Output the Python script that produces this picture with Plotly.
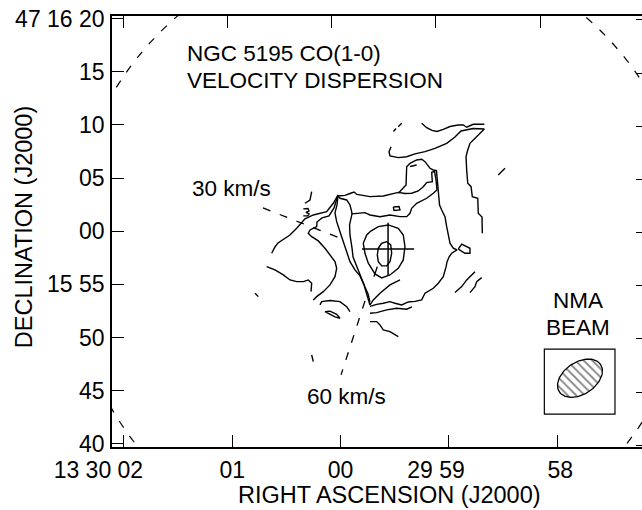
import numpy as np
import plotly.graph_objects as go

# Coordinates: arcsec offsets from 13h30m00s, +47d16'00" (J2000)
# x = east offset (dRA*cos(dec)), y = north offset
ARCSEC_PER_RA_SEC = 10.177
RA_TICK_SEC = [62, 61, 60, 59, 58]
HID = "<span style='color:rgba(0,0,0,0)'>"
RA_TICK_TEXT = ["13 30 02" + HID + "1330</span>", "01", "00",
                "29 59" + HID + "29</span>", HID + "\u00a0</span>58"]
DEC_TICKS = [20, 15, 10, 5, 0, -5, -10, -15, -20]
DEC_TICK_TEXT = ["47 16 20", "15", "10", "05", "00", "15 55", "50", "45", "40"]

# ---- contour lines (velocity dispersion), digitised ----
ctr_top_x = [-7.63, -8.10, -8.60, -9.07, -9.66, -10.29, -11.05, -11.54, -11.86, -12.17, -12.48, -13.52]
ctr_top_y = [10.15, 9.74, 9.48, 9.38, 9.57, 9.85, 9.99, 9.99, 9.78, 9.90, 10.06, 10.06]

ctr_ne_x = [-4.75, -4.56, -4.65, -5.43, -6.22, -7.00, -7.94, -8.88, -9.98, -10.76, -11.33, -11.89, -12.46,
            -13.52, -12.93, -12.46, -12.17, -11.96, -11.80, -11.86, -11.96, -12.27, -12.39, -12.90, -12.95,
            -13.30, -13.33]
ctr_ne_y = [7.95, 7.48, 7.08, 6.92, 7.01, 7.27, 7.48, 7.80, 8.27, 8.86, 9.43, 9.57, 9.66,
            9.62, 9.05, 8.58, 8.27, 7.64, 7.01, 5.76, 4.51, 4.19, 3.25, 3.10, 1.69,
            1.34, -0.19]

# tongue: north rim -> finger -> bowl rim -> west side down to the cusp
ctr_tongue_x = [0.24, -0.42, -0.89, -1.27, -1.55, -2.12, -2.77, -4.02, -4.96, -5.43, -6.06, -6.69, -7.31,
                -7.78, -8.10, -8.63, -8.57, -8.84, -8.98, -9.07, -8.72, -8.10, -7.16, -6.69, -6.53, -6.22,
                -5.59, -4.65, -3.71, -2.77, -2.30, -1.67, -1.08, -0.85, -0.89, -1.08, -1.18, -1.55, -1.93,
                -2.30, -2.59, -2.77]
ctr_tongue_y = [3.32, 3.37, 3.55, 3.69, 3.46, 3.37, 3.25, 3.32, 3.51, 3.65, 3.55, 3.57, 3.79,
                4.19, 4.57, 4.66, 5.55, 5.62, 4.82, 3.88, 3.57, 3.10, 2.63, 2.16, 1.69, 1.37,
                1.37, 1.53, 1.37, 1.53, 1.75, 1.69, 1.63, 0.59, -0.35, -1.57, -2.42, -3.36, -4.39,
                -5.24, -5.89, -6.65]

ctr_link_x = [0.24, 0.05, -0.58, -0.89, -1.05, -1.08]
ctr_link_y = [3.32, 3.10, 2.94, 2.47, 1.84, 1.63]

# outer ridge contour (Pi-shape, east side, back along the south rim)
ctr_ridge_x = [-5.43, -5.75, -6.16, -6.22, -6.53, -7.16, -7.63, -7.94, -8.41, -8.72, -9.02, -9.07, -9.15,
               -9.21, -9.31, -9.51, -9.82, -9.98, -10.13, -10.29, -10.60, -10.95, -10.45, -10.20, -10.01,
               -9.92, -9.66, -9.19, -8.72, -7.94, -7.63, -7.00, -6.37, -5.75, -5.12, -4.65, -4.02, -3.40,
               -2.77]
ctr_ridge_y = [3.57, 3.88, 4.35, 6.07, 6.39, 6.70, 6.77, 6.54, 5.92, 5.76, 5.70, 5.13, 4.19,
               3.41, 2.47, 2.00, 1.37, 0.43, -0.51, -1.13, -1.60, -1.76, -2.07, -2.42, -2.89,
               -3.36, -4.27, -4.89, -5.36, -5.83, -6.46, -6.60, -6.65, -6.93, -6.77, -6.62, -6.77, -6.88,
               -7.07]

ctr_west2_x = [0.24, 0.33, 0.52, 0.36, 0.05, -0.26, -0.58, -0.89, -1.36, -1.83, -2.21, -2.49, -2.77]
ctr_west2_y = [3.32, 2.47, 1.72, 0.90, -0.04, -0.98, -1.92, -2.86, -3.64, -4.20, -5.05, -5.89, -6.93]

ctr_cusp_x = [-2.77, -3.08, -3.71, -4.65, -5.59]
ctr_cusp_y = [-6.93, -6.46, -5.83, -5.05, -4.58]

ctr4_x = [-2.77, -3.55, -4.49, -5.43, -5.90, -6.06, -5.90, -5.43, -4.65, -3.87, -3.24, -2.61, -2.30, -2.14, -2.46, -2.77]
ctr4_y = [-0.04, 0.43, 0.59, 0.28, -0.35, -1.45, -2.70, -3.48, -4.11, -4.39, -4.01, -3.01, -2.07, -1.13, -0.35, -0.04]

ctr5_x = [-3.87, -4.34, -4.72, -4.81, -4.65, -4.34, -3.87, -3.55, -3.46, -3.55, -3.87]
ctr5_y = [-1.13, -0.98, -1.29, -2.07, -2.86, -3.26, -3.26, -2.86, -2.23, -1.60, -1.13]
ctr5_tail_x = [-3.46, -3.15]
ctr5_tail_y = [-3.33, -4.27]

ctr_w1_x = [0.24, 0.61, 1.08, 1.74, 2.21, 2.24, 2.87, 3.03, 2.71, 2.09, 1.46, 0.99, 0.52, 0.36, 0.52, 0.99, 1.62, 2.24, 2.56]
ctr_w1_y = [3.41, 2.19, 1.44, 1.25, 0.87, 0.43, 0.12, -0.19, -0.51, -0.91, -1.60, -2.23, -2.86, -3.48, -4.27, -5.05, -5.68, -6.15, -6.46]

ctr_w0_x = [0.24, 0.68, 1.30, 2.56, 3.34, 3.81, 4.12, 4.75, 5.41, 5.88, 6.16, 6.47]
ctr_w0_y = [3.41, 2.63, 1.84, 1.53, 1.16, 0.59, 0.28, -0.35, -0.82, -1.10, -1.48, -2.07]

ctr_g_x = [2.71, 2.87, 3.34]
ctr_g_y = [3.72, 2.94, 2.63]
ctr_h_x = [3.50, 3.06, 2.96, 3.24, 2.96, 3.06, 3.50]
ctr_h_y = [2.10, 2.14, 1.91, 1.77, 1.63, 1.44, 1.44]
ctr_d_x = [6.94, 6.63, 6.16, 5.38, 4.75, 4.12, 3.50, 3.03, 2.71, 2.77]
ctr_d_y = [-3.33, -3.48, -3.64, -4.11, -4.58, -4.74, -4.74, -4.58, -4.89, -5.68]
ctr_e_x = [1.93, 1.77, 0.99, 0.05, -0.58, -0.89]
ctr_e_y = [-6.93, -6.62, -6.52, -6.62, -7.09, -7.56]
ctr_f_x = [1.46, 0.99, 0.36, 0.05, 0.52, 1.18, 1.46]
ctr_f_y = [-7.56, -7.51, -7.82, -8.18, -8.06, -7.73, -7.56]
ctr_s2_x = [-2.77, -3.40, -4.34, -5.28, -6.22, -6.72]
ctr_s2_y = [-7.71, -7.65, -7.40, -7.24, -7.33, -7.12]
ctr_s3_x = [-2.77, -3.40, -3.71, -4.02, -4.65, -5.12, -5.43]
ctr_s3_y = [-8.50, -8.50, -8.81, -9.28, -9.44, -9.75, -9.91]
loop1_x = [-11.07, -11.39, -12.17, -12.17, -11.70, -11.07]
loop1_y = [-1.69, -1.22, -1.60, -2.07, -2.07, -1.69]
loop2_x = [-4.96, -5.50, -5.59, -5.03, -4.96]
loop2_y = [2.28, 2.33, 2.00, 1.96, 2.28]
loop3_x = [-6.53, -7.16]
loop3_y = [6.09, 6.23]
frag_x = [-5.43, -5.75, None, -4.98, -5.22, None, -14.83, -15.46, None,
          -12.64, -11.86, -11.39, -10.76, None, -13.27, -12.80, -12.64, -12.17, None,
          8.04, 7.73, None, 2.71, 2.56]
frag_y = [9.83, 10.15, None, 9.38, 9.66, None, 5.29, 5.92, None,
          -3.80, -4.58, -5.21, -5.77, None, -4.36, -4.74, -5.21, -5.77, None,
          -5.83, -6.15, None, -11.63, -12.26]

# leader lines for the labelled levels
lead30_x = [7.29, -0.14]
lead30_y = [2.19, -0.72]
lead60_x = [-2.30, -0.05]
lead60_y = [-6.55, -13.51]

# nucleus cross
NUC = (-4.47, -1.66)
NUC_ARM = 2.45

# primary beam (dashed circle)
PB_CENTER = (-3.81, -1.95)
PB_RADIUS = 29.3

# synthesized beam
BEAM_CENTER = (-22.51, -13.82)
BMAJ, BMIN, BPA = 4.66, 3.02, -56.4
BEAM_BOX = (-19.16, -25.80, -11.09, -17.20)

FONT = "Liberation Sans, Arial, sans-serif"
LW = 1.4

fig = go.Figure()

contours = [
    (ctr_top_x, ctr_top_y), (ctr_ne_x, ctr_ne_y), (ctr_tongue_x, ctr_tongue_y),
    (ctr_link_x, ctr_link_y), (ctr_ridge_x, ctr_ridge_y), (ctr_west2_x, ctr_west2_y),
    (ctr_cusp_x, ctr_cusp_y),
    (ctr4_x, ctr4_y), (ctr5_x, ctr5_y), (ctr5_tail_x, ctr5_tail_y), (ctr_w1_x, ctr_w1_y),
    (ctr_w0_x, ctr_w0_y), (ctr_g_x, ctr_g_y), (ctr_h_x, ctr_h_y), (ctr_d_x, ctr_d_y),
    (ctr_e_x, ctr_e_y), (ctr_f_x, ctr_f_y), (ctr_s2_x, ctr_s2_y),
    (ctr_s3_x, ctr_s3_y), (loop1_x, loop1_y), (loop2_x, loop2_y), (loop3_x, loop3_y),
    (frag_x, frag_y),
]
for cx, cy in contours:
    fig.add_trace(go.Scatter(x=cx, y=cy, mode="lines", line=dict(color="black", width=LW),
                             hoverinfo="skip", showlegend=False, connectgaps=False))

for lx, ly in [(lead30_x, lead30_y), (lead60_x, lead60_y)]:
    fig.add_trace(go.Scatter(x=lx, y=ly, mode="lines",
                             line=dict(color="black", width=1.3, dash="8px,10px"),
                             hoverinfo="skip", showlegend=False))

# nucleus cross
fig.add_trace(go.Scatter(
    x=[NUC[0] + NUC_ARM, NUC[0] - NUC_ARM, None, NUC[0], NUC[0]],
    y=[NUC[1], NUC[1], None, NUC[1] + NUC_ARM, NUC[1] - NUC_ARM],
    mode="lines", line=dict(color="black", width=1.5), hoverinfo="skip", showlegend=False))

# beam ellipse with hatching
t = np.linspace(0, 2 * np.pi, 121)
pa = np.deg2rad(BPA)
ux, uy = np.sin(pa), np.cos(pa)
vx, vy = np.cos(pa), -np.sin(pa)
a, b = BMAJ / 2, BMIN / 2
ex = BEAM_CENTER[0] + a * np.cos(t) * ux + b * np.sin(t) * vx
ey = BEAM_CENTER[1] + a * np.cos(t) * uy + b * np.sin(t) * vy
fig.add_trace(go.Scatter(x=ex, y=ey, mode="lines", fill="toself",
                         fillpattern=dict(shape="\\", fgcolor="black", bgcolor="white", size=6, solidity=0.3),
                         line=dict(color="black", width=1.3), hoverinfo="skip", showlegend=False))

# invisible traces for the top and right tick axes
fig.add_trace(go.Scatter(x=[0], y=[0], xaxis="x2", mode="markers", marker=dict(opacity=0),
                         hoverinfo="skip", showlegend=False))
fig.add_trace(go.Scatter(x=[0], y=[0], yaxis="y2", mode="markers", marker=dict(opacity=0),
                         hoverinfo="skip", showlegend=False))

fig.add_shape(type="circle", xref="x", yref="y",
              x0=PB_CENTER[0] - PB_RADIUS, x1=PB_CENTER[0] + PB_RADIUS,
              y0=PB_CENTER[1] - PB_RADIUS, y1=PB_CENTER[1] + PB_RADIUS,
              line=dict(color="black", width=1.2, dash="8px,10px"))
fig.add_shape(type="rect", xref="x", yref="y",
              x0=BEAM_BOX[0], x1=BEAM_BOX[1], y0=BEAM_BOX[2], y1=BEAM_BOX[3],
              line=dict(color="black", width=1.2))

ra_vals = [(s - 60) * ARCSEC_PER_RA_SEC for s in RA_TICK_SEC]
tickfont = dict(family=FONT, size=23, color="black")

fig.update_layout(
    width=642, height=510,
    margin=dict(l=112, r=0, t=16, b=63),
    paper_bgcolor="white", plot_bgcolor="white",
    showlegend=False,
    xaxis=dict(range=[21.48, -28.34], tickvals=ra_vals, ticktext=RA_TICK_TEXT,
               ticks="inside", ticklen=12, tickwidth=1.3, tickcolor="black",
               showline=True, linecolor="black", linewidth=1.5, mirror=True,
               showgrid=False, zeroline=False, tickfont=tickfont, ticklabelstandoff=2),
    xaxis2=dict(range=[21.45, -30.31], overlaying="x", side="top", tickvals=ra_vals,
                ticks="inside", ticklen=12, tickwidth=1.3, tickcolor="black",
                showticklabels=False, showline=False, showgrid=False, zeroline=False),
    yaxis=dict(range=[-20.29, 20.24], tickvals=DEC_TICKS, ticktext=DEC_TICK_TEXT,
               ticks="inside", ticklen=12, tickwidth=1.3, tickcolor="black",
               showline=True, linecolor="black", linewidth=1.5, mirror=False,
               showgrid=False, zeroline=False, tickfont=tickfont, ticklabelstandoff=1),
    yaxis2=dict(range=[-20.17, 20.36], overlaying="y", side="right", tickvals=DEC_TICKS,
                ticks="inside", ticklen=6, tickwidth=1.3, tickcolor="black",
                showticklabels=False, showline=False, showgrid=False, zeroline=False),
    font=dict(family=FONT, color="black"),
)

ann_font = dict(family=FONT, size=22.5, color="black")
texts = [
    ("NGC 5195 CO(1-0)", 14.62, 16.73, "left"),
    ("VELOCITY DISPERSION", 14.62, 14.22, "left"),
    ("30 km/s", 10.25, 3.98, "center"),
    ("60 km/s", -0.56, -15.58, "center"),
    ("NMA", -22.30, -6.53, "center"),
    ("BEAM", -22.30, -9.04, "center"),
]
for txt, x, y, xa in texts:
    fig.add_annotation(text=txt, x=x, y=y, xref="x", yref="y", showarrow=False,
                       xanchor=xa, yanchor="middle", font=ann_font)

fig.add_annotation(text="RIGHT ASCENSION (J2000)", x=0.5245, y=-0.112, xref="paper", yref="paper",
                   showarrow=False, xanchor="center", yanchor="middle",
                   font=dict(family=FONT, size=23.5, color="black"))
fig.add_annotation(text="DECLINATION (J2000)", x=-0.166, y=0.51, xref="paper", yref="paper",
                   showarrow=False, xanchor="center", yanchor="middle", textangle=-90,
                   font=dict(family=FONT, size=23.5, color="black"))

fig.write_html("out.html")
